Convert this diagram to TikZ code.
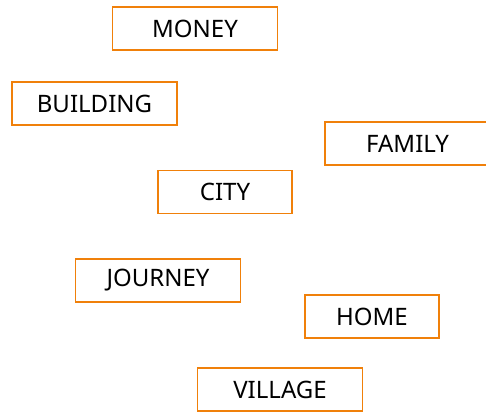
\documentclass[tikz,border=0pt]{standalone}
\usepackage{fontspec}
\setmainfont{Noto Sans}
\definecolor{boxorange}{RGB}{240,128,10}
\begin{document}
\begin{tikzpicture}[x=1pt,y=-1pt,
  word/.style={draw=boxorange, line width=1.6pt, fill=white, minimum height=43pt, inner sep=0pt, font=\fontsize{24}{28}\selectfont, text=black},
  wide/.style={word, minimum width=165pt},
  narrow/.style={word, minimum width=134pt}]
\useasboundingbox (0,0) rectangle (486,412);
\node[wide] (money) at (195,28.5) {MONEY};
\node[wide] (building) at (94.5,103.5) {BUILDING};
\node[wide] (family) at (407.5,143.5) {FAMILY};
\node[narrow] (city) at (225,192) {CITY};
\node[wide] (journey) at (158,280.5) {JOURNEY};
\node[narrow] (home) at (372,316.5) {HOME};
\node[wide] (village) at (280,389.5) {VILLAGE};
\end{tikzpicture}
\end{document}
